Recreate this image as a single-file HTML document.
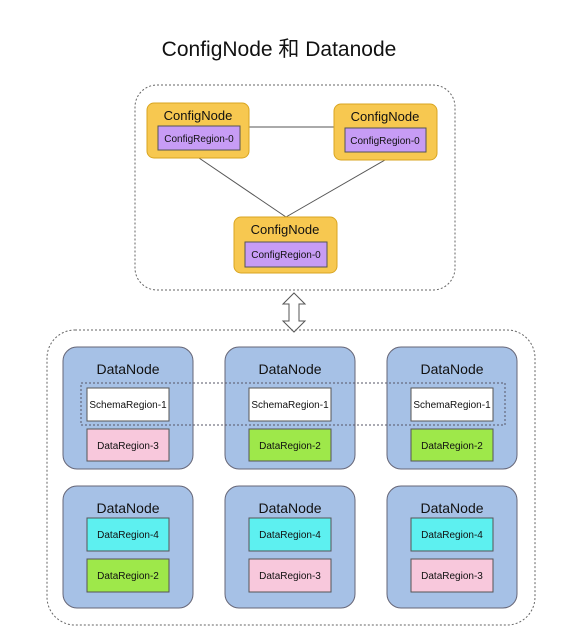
<!DOCTYPE html><html><head><meta charset="utf-8"><style>body{margin:0;background:#fff}</style></head><body>
<svg width="575" height="639" xmlns="http://www.w3.org/2000/svg" font-family="Liberation Sans, Noto Sans CJK SC, sans-serif">
<text x="279" y="56" font-size="21" text-anchor="middle" fill="#111">ConfigNode 和  Datanode</text>
<rect x="135" y="85" width="320" height="205" rx="22" fill="none" stroke="#666" stroke-dasharray="2,2"/>
<g stroke="#555" stroke-width="1"><line x1="249" y1="127" x2="334" y2="127"/><line x1="199" y1="158" x2="286" y2="217"/><line x1="385" y1="160" x2="286" y2="217"/></g>
<g font-size="13" text-anchor="middle" fill="#111">
<rect x="147" y="103" width="102" height="55" rx="7" fill="#f7c850" stroke="#d9a520"/><text x="198" y="120">ConfigNode</text>
<rect x="158" y="126" width="82" height="24" fill="#c79cf5" stroke="#555"/><text x="199" y="142" font-size="10">ConfigRegion-0</text>
<rect x="334" y="104" width="103" height="56" rx="7" fill="#f7c850" stroke="#d9a520"/><text x="385" y="121">ConfigNode</text>
<rect x="345" y="128" width="81" height="24" fill="#c79cf5" stroke="#555"/><text x="385" y="144" font-size="10">ConfigRegion-0</text>
<rect x="234" y="217" width="103" height="56" rx="7" fill="#f7c850" stroke="#d9a520"/><text x="285" y="234">ConfigNode</text>
<rect x="245" y="242" width="82" height="25" fill="#c79cf5" stroke="#555"/><text x="286" y="258" font-size="10">ConfigRegion-0</text>
</g>
<path d="M294 293 L305 304 L299 304 L299 321 L305 321 L294 332 L283 321 L289 321 L289 304 L283 304 Z" fill="#fff" stroke="#555"/>
<rect x="47" y="330" width="488" height="295" rx="28" fill="none" stroke="#666" stroke-dasharray="2,2"/>
<g font-size="13" text-anchor="middle" fill="#111">
<g id="c1">
<rect x="63" y="347" width="130" height="122" rx="14" fill="#a6c1e6" stroke="#667"/><text x="128" y="374" font-size="14">DataNode</text>
<rect x="63" y="486" width="130" height="122" rx="14" fill="#a6c1e6" stroke="#667"/><text x="128" y="513" font-size="14">DataNode</text>
<rect x="225" y="347" width="130" height="122" rx="14" fill="#a6c1e6" stroke="#667"/><text x="290" y="374" font-size="14">DataNode</text>
<rect x="225" y="486" width="130" height="122" rx="14" fill="#a6c1e6" stroke="#667"/><text x="290" y="513" font-size="14">DataNode</text>
<rect x="387" y="347" width="130" height="122" rx="14" fill="#a6c1e6" stroke="#667"/><text x="452" y="374" font-size="14">DataNode</text>
<rect x="387" y="486" width="130" height="122" rx="14" fill="#a6c1e6" stroke="#667"/><text x="452" y="513" font-size="14">DataNode</text>
</g>
<g font-size="10">
<rect x="87" y="388" width="82" height="33" fill="#fff" stroke="#555"/><text x="128" y="408">SchemaRegion-1</text>
<rect x="87" y="429" width="82" height="32" fill="#f8c8dc" stroke="#555"/><text x="128" y="449">DataRegion-3</text>
<rect x="249" y="388" width="82" height="33" fill="#fff" stroke="#555"/><text x="290" y="408">SchemaRegion-1</text>
<rect x="249" y="429" width="82" height="32" fill="#9ee84a" stroke="#555"/><text x="290" y="449">DataRegion-2</text>
<rect x="411" y="388" width="82" height="33" fill="#fff" stroke="#555"/><text x="452" y="408">SchemaRegion-1</text>
<rect x="411" y="429" width="82" height="32" fill="#9ee84a" stroke="#555"/><text x="452" y="449">DataRegion-2</text>
<rect x="87" y="518" width="82" height="33" fill="#5df0f0" stroke="#555"/><text x="128" y="538">DataRegion-4</text>
<rect x="87" y="559" width="82" height="33" fill="#9ee84a" stroke="#555"/><text x="128" y="579">DataRegion-2</text>
<rect x="249" y="518" width="82" height="33" fill="#5df0f0" stroke="#555"/><text x="290" y="538">DataRegion-4</text>
<rect x="249" y="559" width="82" height="33" fill="#f8c8dc" stroke="#555"/><text x="290" y="579">DataRegion-3</text>
<rect x="411" y="518" width="82" height="33" fill="#5df0f0" stroke="#555"/><text x="452" y="538">DataRegion-4</text>
<rect x="411" y="559" width="82" height="33" fill="#f8c8dc" stroke="#555"/><text x="452" y="579">DataRegion-3</text>
</g></g>
<rect x="81" y="383" width="424" height="42" fill="none" stroke="#556" stroke-dasharray="2,2"/>
</svg></body></html>
